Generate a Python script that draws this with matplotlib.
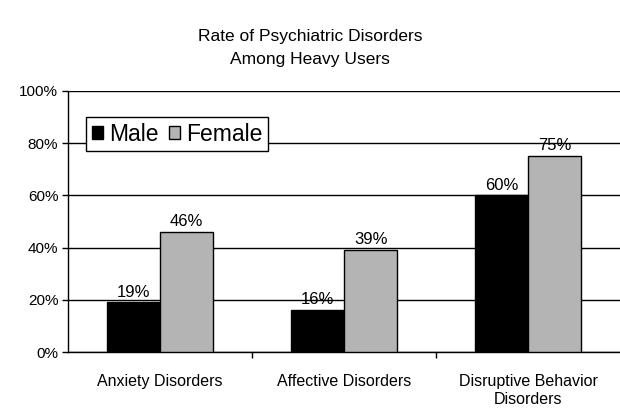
import matplotlib
matplotlib.use("Agg")
import matplotlib.pyplot as plt
import numpy as np

categories = ["Anxiety Disorders", "Affective Disorders", "Disruptive Behavior\nDisorders"]
male = [19, 16, 60]
female = [46, 39, 75]
yticks = [0, 20, 40, 60, 80, 100]

plt.rcParams['font.family'] = ['Liberation Sans', 'DejaVu Sans']

fig = plt.figure(figsize=(6.2, 4.15), dpi=100)
ax = fig.add_axes([68/620, 1-352/415, 552/620, (352-91)/415])

x = np.arange(len(categories))
w = 0.29
b1 = ax.bar(x - w/2, male, w, color='black', edgecolor='black', linewidth=1, label='Male', zorder=3)
b2 = ax.bar(x + w/2, female, w, color='#b4b4b4', edgecolor='black', linewidth=1, label='Female', zorder=3)

for bars, vals in ((b1, male), (b2, female)):
    for r, v in zip(bars, vals):
        ax.annotate(f"{v}%", (r.get_x() + r.get_width()/2, v), xytext=(0, 2),
                    textcoords='offset points', ha='center', va='bottom', fontsize=12, zorder=4)

ax.set_xlim(-0.5, len(categories) - 0.5)
ax.set_ylim(0, 100)
ax.set_yticks(yticks)
ax.set_yticklabels([f"{t}%" for t in yticks], fontsize=11)
ax.yaxis.grid(True, color='black', linewidth=1)
ax.set_axisbelow(True)

ax.set_xticks(x)
ax.set_xticklabels(categories, fontsize=11.5, linespacing=1.25)
ax.tick_params(axis='x', length=0, pad=16)
ax.set_xticks([0.5, 1.5], minor=True)
ax.tick_params(axis='x', which='minor', length=4, width=1, direction='out')
ax.tick_params(axis='y', length=4, width=1, direction='out', pad=3)

for s in ['top', 'right']:
    ax.spines[s].set_visible(False)
ax.spines['left'].set_linewidth(1)
ax.spines['bottom'].set_linewidth(1)

leg = ax.legend(loc='upper left', bbox_to_anchor=(18/552, (352-117)/261), ncol=2, fontsize=16.5,
                frameon=True, fancybox=False, edgecolor='black', framealpha=1,
                handlelength=0.5, handleheight=0.5, handletextpad=0.25, columnspacing=0.45,
                borderpad=0.25, borderaxespad=0)
leg.get_frame().set_linewidth(1)

fig.text(0.5, 1-48/415, "Rate of Psychiatric Disorders\nAmong Heavy Users", ha='center', va='center',
         fontsize=12.5, linespacing=1.65)

fig.savefig("out.png", dpi=100)
